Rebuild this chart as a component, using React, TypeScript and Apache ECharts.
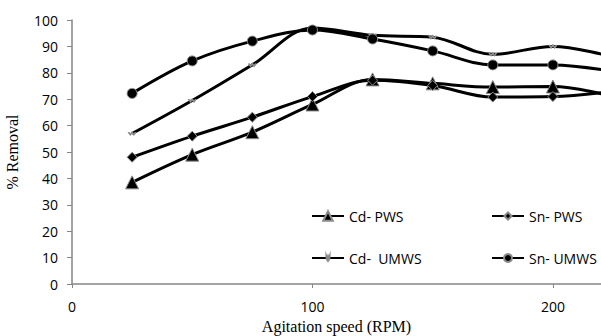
import React, { useEffect, useRef } from "react";
import * as echarts from "echarts";

const speeds = [25, 50, 75, 100, 125, 150, 175, 200, 225];
const cdPWS = [38.5, 49, 57.5, 68, 77.5, 76, 74.6, 74.8, 71];
const snPWS = [48, 56, 63.2, 71, 77.2, 75.2, 70.8, 71, 73];
const cdUMWS = [57, 69.5, 83, 97, 94.2, 93.5, 87, 90, 86];
const snUMWS = [72.2, 84.5, 92, 96.2, 92.8, 88.3, 83, 83, 80.5];
const xTicks = { min: 0, max: 220, interval: 100 };
const yTicks = { min: 0, max: 100, interval: 10 };
const seriesNames = ["Cd- PWS", "Sn- PWS", "Cd-  UMWS", "Sn- UMWS"];

const SANS = "'Open Sans', 'Liberation Sans', sans-serif";
const SERIF = "'Liberation Serif', 'DejaVu Serif', serif";

function pairs(ys: number[]) {
  return speeds.map((x, i) => [x, ys[i]]);
}

export default function App() {
  const ref = useRef<HTMLDivElement>(null);
  useEffect(() => {
    if (!ref.current) return;
    const chart = echarts.init(ref.current, null, { renderer: "svg" });
    const axisGray = "#868686";
    const mk = (name: string, data: number[], symbol: string, size: any, color = "#000") => ({
      name,
      type: "line",
      smooth: 0.35,
      data: pairs(data),
      symbol,
      symbolSize: size,
      showSymbol: true,
      lineStyle: { color: "#000", width: 3 },
      itemStyle: { color, borderColor: "#8a8a8a", borderWidth: 1 },
      z: 3,
    });
    const legendPos = [
      [306, 203, 12],
      [486, 203, 9],
      [306, 245, 4],
      [486, 245, 10],
    ];
    const legends = seriesNames.map((n, i) => ({
      left: legendPos[i][0],
      top: legendPos[i][1],
      orient: "horizontal",
      itemWidth: 32,
      itemHeight: legendPos[i][2],
      itemGap: 0,
      data: [n],
      textStyle: { fontSize: 14, lineHeight: 16, fontFamily: SANS, color: "#000" },
    }));
    chart.setOption({
      animation: false,
      backgroundColor: "#fff",
      grid: { left: 72, right: 0, top: 20, bottom: 52, outerBoundsMode: "none", containLabel: false },
      legend: legends,
      xAxis: {
        type: "value",
        ...xTicks,
        name: "Agitation speed (RPM)",
        nameLocation: "middle",
        nameGap: 34,
        nameTextStyle: { fontFamily: SERIF, fontSize: 16, color: "#000" },
        axisLine: { show: true, lineStyle: { color: axisGray, width: 1.5 } },
        axisTick: { show: true, length: 4, lineStyle: { color: axisGray } },
        axisLabel: { fontFamily: SANS, fontSize: 14, color: "#000", margin: 15, showMaxLabel: false },
        splitLine: { show: false },
      },
      yAxis: {
        type: "value",
        ...yTicks,
        name: "% Removal",
        nameLocation: "middle",
        nameGap: 52,
        nameTextStyle: { fontFamily: SERIF, fontSize: 16, color: "#000" },
        axisLine: { show: true, lineStyle: { color: axisGray, width: 1.5 } },
        axisTick: { show: true, length: 5, lineStyle: { color: axisGray } },
        axisLabel: { fontFamily: SANS, fontSize: 14, color: "#000", margin: 14 },
        splitLine: { show: false },
      },
      series: [
        mk(seriesNames[0], cdPWS, "triangle", 13),
        mk(seriesNames[1], snPWS, "diamond", 10),
        mk(seriesNames[2], cdUMWS, "path://M0,0L2,3L4,0L6,3L8,0L8,1L6,4L4,1L2,4L0,1Z", [7, 3], "#aaa"),
        mk(seriesNames[3], snUMWS, "circle", 10),
      ],
    });
    return () => chart.dispose();
  }, []);
  return <div ref={ref} style={{ width: 601, height: 336, position: "absolute", left: 0, top: 0 }} />;
}
